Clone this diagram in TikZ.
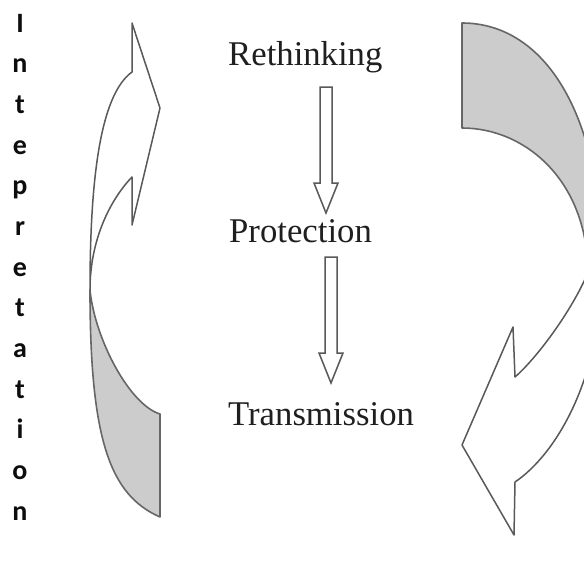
\documentclass[tikz,border=0pt]{standalone}
\usepackage{fontspec}
\setmainfont{Liberation Serif}
\newfontfamily\lblfont{Carlito}
\begin{document}
\begin{tikzpicture}[x=1pt,y=-1pt,
  stage/.style={anchor=base west, inner sep=0pt, text=black!88, font=\fontsize{34.7}{40}\selectfont},
  vletter/.style={anchor=base, inner sep=0pt, text=black!95, font=\lblfont\bfseries\fontsize{28}{30}\selectfont},
  backpart/.style={fill=black!20, draw=black!60, line width=1.6pt, line join=round},
  frontpart/.style={fill=white, draw=black!65, line width=1.5pt, line join=round},
  blockarrow/.style={fill=white, draw=black!65, line width=1.5pt, line join=miter}]
\useasboundingbox (0,0) rectangle (584,574);
\clip (0,0) rectangle (584,574);
\fill[white] (0,0) rectangle (584,574);

% vertical word
\foreach \ch [count=\i from 0] in {I,n,t,e,p,r,e,t,a,t,i,o,n}{
  \node[vletter] (l\i) at (20,{32+40.67*\i}) {\ch};
}

% stage labels
\node[stage] (reth) at (228,65) {Rethinking};
\node[stage] (prot) at (229,242) {Protection};
\node[stage] (tran) at (228,425) {Transmission};

% block arrows between the labels
\draw[blockarrow] (320,87) -- (332,87) -- (332,183) -- (338,183) -- (326,213)
  -- (314,183) -- (320,183) -- cycle;
\draw[blockarrow] (325,257) -- (337,257) -- (337,353) -- (343,353) -- (331,383)
  -- (319,353) -- (325,353) -- cycle;

% left curved arrow: back (grey) part
\draw[backpart] (90,290) .. controls (90,440) and (110,495) .. (160,517)
  -- (160,414) .. controls (130,405) and (95,340) .. (90,290) -- cycle;
% left curved arrow: front part
\draw[frontpart] (90,290) .. controls (90,180) and (100,95) .. (132,72)
  -- (132,23) -- (160,108) -- (132,225) -- (132,177)
  .. controls (110,200) and (90,240) .. (90,290) -- cycle;

% right curved arrow: back (grey) part
\draw[backpart] (462,23) .. controls (545,23) and (602,115) .. (602,265)
  -- (588,272) .. controls (587,180) and (525,128) .. (462,128) -- cycle;
% right curved arrow: front part
\draw[frontpart] (588,272) .. controls (575,305) and (540,355) .. (515,377)
  -- (513,327) -- (462,445) -- (514,535) -- (515,482)
  .. controls (555,455) and (602,380) .. (602,265) -- cycle;
\end{tikzpicture}
\end{document}
